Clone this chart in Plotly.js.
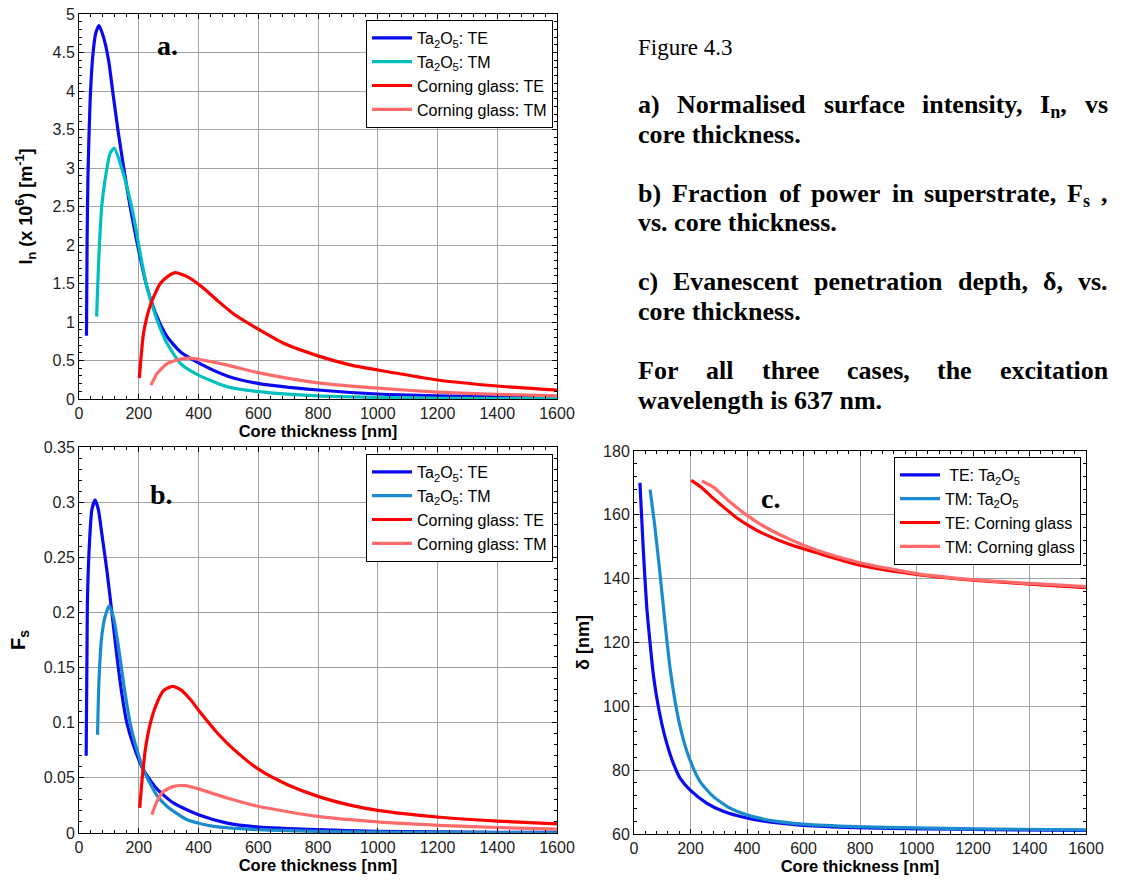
<!DOCTYPE html>
<html>
<head>
<meta charset="utf-8">
<script src="https://cdn.plot.ly/plotly-3.0.1.min.js"></script>
<style>html,body{margin:0;padding:0;background:#fff;}#chart{width:1141px;height:881px;}</style>
</head>
<body>
<div id="chart"></div>
<script>
// ---------- data ----------
// Panel a: normalised surface intensity In (x 10^6 m^-1)
const aTaTeX = [25, 27, 30, 37, 46, 56, 67, 82, 99, 115, 132, 149, 171, 196, 227, 261, 295, 340, 400, 496, 603, 800, 1000, 1200, 1400, 1600];
const aTaTeY = [0.82, 2.0, 2.9, 3.85, 4.45, 4.75, 4.85, 4.7, 4.4, 3.93, 3.45, 3.02, 2.5, 2.0, 1.46, 1.07, 0.81, 0.61, 0.47, 0.3, 0.2, 0.117, 0.065, 0.042, 0.03, 0.025];
const aTaTmX = [59, 63, 67, 76, 87, 104, 118, 138, 160, 183, 205, 227, 261, 295, 340, 400, 496, 603, 800, 1000, 1200, 1400, 1600];
const aTaTmY = [1.07, 1.5, 1.89, 2.5, 2.84, 3.19, 3.26, 3.06, 2.76, 2.37, 1.89, 1.46, 1.03, 0.72, 0.46, 0.31, 0.16, 0.095, 0.04, 0.02, 0.01, 0.006, 0.004];
const aCgTeX = [202, 216, 239, 272, 300, 323, 362, 407, 463, 519, 603, 687, 800, 911, 1000, 1200, 1400, 1600];
const aCgTeY = [0.27, 0.85, 1.22, 1.5, 1.6, 1.64, 1.59, 1.47, 1.28, 1.1, 0.9, 0.72, 0.56, 0.44, 0.377, 0.247, 0.169, 0.117];
const aCgTmX = [241, 261, 295, 340, 373, 407, 496, 603, 800, 1000, 1200, 1400, 1600];
const aCgTmY = [0.18, 0.33, 0.46, 0.52, 0.53, 0.51, 0.44, 0.34, 0.21, 0.14, 0.09, 0.06, 0.04];

// Panel b: fraction of power in superstrate Fs
const bTaTeX = [24, 28, 35, 43, 54, 65, 76, 93, 110, 127, 143, 160, 183, 216, 261, 317, 400, 496, 603, 800, 1000, 1200, 1400, 1600];
const bTaTeY = [0.07, 0.2085, 0.263, 0.293, 0.302, 0.293, 0.272, 0.239, 0.2, 0.16, 0.127, 0.1, 0.079, 0.057, 0.04, 0.027, 0.0166, 0.009, 0.0054, 0.003, 0.0015, 0.001, 0.0007, 0.0005];
const bTaTmX = [62, 67, 76, 87, 101, 115, 132, 149, 171, 194, 216, 261, 295, 362, 451, 603, 800, 1000, 1200, 1400, 1600];
const bTaTmY = [0.089, 0.139, 0.178, 0.196, 0.206, 0.196, 0.169, 0.136, 0.1, 0.0755, 0.057, 0.034, 0.024, 0.012, 0.006, 0.003, 0.0015, 0.0008, 0.0005, 0.0003, 0.0002];
const bCgTeX = [203, 211, 222, 239, 261, 283, 312, 340, 373, 407, 463, 519, 603, 698, 800, 911, 1000, 1200, 1400, 1600];
const bCgTeY = [0.0227, 0.048, 0.0756, 0.0997, 0.118, 0.129, 0.133, 0.13, 0.121, 0.109, 0.0907, 0.0756, 0.0574, 0.0438, 0.0332, 0.025, 0.0205, 0.0145, 0.0108, 0.0083];
const bCgTmX = [244, 261, 283, 317, 356, 400, 496, 603, 800, 1000, 1200, 1400, 1600];
const bCgTmY = [0.0166, 0.0287, 0.0378, 0.0423, 0.0429, 0.04, 0.0317, 0.024, 0.015, 0.01, 0.007, 0.005, 0.0035];

// Panel c: evanescent penetration depth (nm)
const cTaTeX = [21, 33, 45, 57, 68, 80, 98, 116, 139, 163, 198, 257, 316, 399, 493, 599, 788, 1024, 1260, 1600];
const cTaTeY = [170, 148.9, 131.2, 119.7, 110.3, 103, 94.7, 88.4, 82.2, 77.5, 73.8, 69.7, 67.1, 65, 63.6, 62.7, 62, 61.6, 61.4, 61.1];
const cTaTmX = [57, 74, 92, 110, 127, 151, 175, 198, 234, 281, 340, 399, 493, 599, 788, 1000, 1200, 1600];
const cTaTmY = [167.9, 156.2, 141.6, 126, 112.4, 98.8, 89.5, 83.2, 76.4, 71.7, 68.1, 66, 64.1, 63.1, 62.3, 61.9, 61.6, 61.3];
const cCgTeX = [203, 240, 269, 316, 363, 410, 458, 552, 647, 800, 1000, 1200, 1400, 1600];
const cCgTeY = [170.8, 168.5, 166.1, 162.5, 159.1, 156.4, 154.1, 150.7, 148.1, 144.2, 141.3, 139.5, 138.3, 137.2];
const cCgTmX = [240, 281, 340, 399, 458, 552, 647, 800, 1000, 1200, 1400, 1600];
const cCgTmY = [170.6, 168.7, 164, 159.9, 156.5, 152.3, 148.9, 145, 141.6, 139.7, 138.5, 137.5];

// labels
const namesAB = ['Ta<sub>2</sub>O<sub>5</sub>: TE', 'Ta<sub>2</sub>O<sub>5</sub>: TM', 'Corning glass: TE', 'Corning glass: TM'];
const namesC = [' TE: Ta<sub>2</sub>O<sub>5</sub>', 'TM: Ta<sub>2</sub>O<sub>5</sub>', 'TE: Corning glass', 'TM: Corning glass'];
const xTitle = 'Core thickness [nm]';
const yTitleA = 'I<sub>n</sub> (x 10<sup>6</sup>) [m<sup>-1</sup>]';
const yTitleB = 'F<sub>s</sub>';
const yTitleC = 'δ [nm]';
const panelTags = ['a.', 'b.', 'c.'];
const figHeading = 'Figure 4.3';
const captionLines = [
  {t: 'a) Normalised surface intensity, I<sub>n</sub>, vs', j: true},
  {t: 'core thickness.', j: false},
  {t: 'b) Fraction of power in superstrate, F<sub>s</sub> ,', j: true},
  {t: 'vs. core thickness.', j: false},
  {t: 'c) Evanescent penetration depth, δ, vs.', j: true},
  {t: 'core thickness.', j: false},
  {t: 'For all three cases, the excitation', j: true},
  {t: 'wavelength is 637 nm.', j: false}
];

// ---------- layout helpers ----------
const W = 1141, H = 881;
const px = v => v / W;
const py = v => 1 - v / H;

const cBlue = '#0a0af0', cCyan = '#00bfbf', cSky = '#1a8bcf', cRed = '#ff0000', cPink = '#ff6a6a';
const lw = 3.2;

function tr(x, y, name, color, xa, ya, leg) {
  return {x: x, y: y, name: name, type: 'scatter', mode: 'lines',
    line: {color: color, width: lw, shape: 'spline', smoothing: 0.6},
    xaxis: xa, yaxis: ya, legend: leg, hoverinfo: 'skip'};
}

const traces = [
  tr(aTaTeX, aTaTeY, namesAB[0], cBlue, 'x', 'y', 'legend'),
  tr(aTaTmX, aTaTmY, namesAB[1], cCyan, 'x', 'y', 'legend'),
  tr(aCgTeX, aCgTeY, namesAB[2], cRed, 'x', 'y', 'legend'),
  tr(aCgTmX, aCgTmY, namesAB[3], cPink, 'x', 'y', 'legend'),
  tr(bTaTeX, bTaTeY, namesAB[0], cBlue, 'x2', 'y2', 'legend2'),
  tr(bTaTmX, bTaTmY, namesAB[1], cSky, 'x2', 'y2', 'legend2'),
  tr(bCgTeX, bCgTeY, namesAB[2], cRed, 'x2', 'y2', 'legend2'),
  tr(bCgTmX, bCgTmY, namesAB[3], cPink, 'x2', 'y2', 'legend2'),
  tr(cTaTeX, cTaTeY, namesC[0], cBlue, 'x3', 'y3', 'legend3'),
  tr(cTaTmX, cTaTmY, namesC[1], cSky, 'x3', 'y3', 'legend3'),
  tr(cCgTeX, cCgTeY, namesC[2], cRed, 'x3', 'y3', 'legend3'),
  tr(cCgTmX, cCgTmY, namesC[3], cPink, 'x3', 'y3', 'legend3')
];

const sans = 'Liberation Sans, Arial, sans-serif';
const serif = 'Liberation Serif, Times New Roman, serif';

function axis(extra) {
  return Object.assign({
    showline: true, linecolor: '#000', linewidth: 1, mirror: 'allticks',
    ticks: 'inside', ticklen: 5, tickcolor: '#000', tickwidth: 1,
    showgrid: true, gridcolor: '#a3a3a3', gridwidth: 1, zeroline: false,
    tickfont: {family: sans, size: 16, color: '#1e1e1e'},
    fixedrange: true, automargin: false
  }, extra);
}
function xAx(dom, anchor) {
  return axis({domain: dom, anchor: anchor, range: [0, 1600], tick0: 0, dtick: 200,
    minor: {ticks: 'inside', ticklen: 3, tickcolor: '#000', dtick: 40, showgrid: false},
    title: {text: xTitle, font: {family: sans, size: 16.5, color: '#000', weight: 'bold'}, standoff: 4}});
}
function yAx(dom, anchor, range, dt, mdt, title, fs, so) {
  return axis({domain: dom, anchor: anchor, range: range, tick0: range[0], dtick: dt,
    minor: {ticks: 'inside', ticklen: 3, tickcolor: '#000', dtick: mdt, showgrid: false},
    title: {text: title, font: {family: sans, size: fs, color: '#000', weight: 'bold'}, standoff: so}});
}
function leg(xr, yt) {
  return {x: px(xr), y: py(yt), xanchor: 'right', yanchor: 'top', xref: 'paper', yref: 'paper',
    bgcolor: '#fff', bordercolor: '#000', borderwidth: 1,
    font: {family: sans, size: 16, color: '#000'}, itemwidth: 40, tracegroupgap: 0};
}

// ---------- text annotations ----------
const annotations = [];
const tagFont = {family: serif, size: 28, color: '#000', weight: 'bold'};
function tag(t, x, y) {
  annotations.push({text: t, x: px(x), y: py(y), xref: 'paper', yref: 'paper', xanchor: 'center', yanchor: 'middle',
    showarrow: false, borderpad: 0, font: tagFont});
}
tag(panelTags[0], 167, 45);
tag(panelTags[1], 161, 494);
tag(panelTags[2], 770, 499);

annotations.push({text: figHeading, x: px(637), y: py(55 - 21), xref: 'paper', yref: 'paper', xanchor: 'left', yanchor: 'top',
  showarrow: false, borderpad: 0, font: {family: serif, size: 23, color: '#000'}});

const capSize = 26, capLeft = 637, capRight = 1107;
const baselines = [112, 142, 200.5, 230.5, 289, 319, 378, 408];
const cv = document.createElement('canvas').getContext('2d');
function measure(html) {
  let w = 0;
  html.split(/(<sub>.*?<\/sub>)/).forEach(p => {
    if (!p) return;
    const m = p.match(/^<sub>(.*)<\/sub>$/);
    if (m) { cv.font = 'bold ' + (capSize * 0.7) + 'px "Liberation Serif"'; w += cv.measureText(m[1]).width; }
    else { cv.font = 'bold ' + capSize + 'px "Liberation Serif"'; w += cv.measureText(p).width; }
  });
  return w;
}
const capFont = {family: serif, size: capSize, color: '#000', weight: 'bold'};
captionLines.forEach((ln, i) => {
  const top = baselines[i] - 23;
  if (!ln.j) {
    annotations.push({text: ln.t, x: px(capLeft), y: py(top), xref: 'paper', yref: 'paper', xanchor: 'left', yanchor: 'top',
      showarrow: false, borderpad: 0, font: capFont});
    return;
  }
  const words = ln.t.split(' ').filter(s => s.length);
  const widths = words.map(measure);
  const total = widths.reduce((a, b) => a + b, 0);
  const gap = (capRight - capLeft - total) / (words.length - 1);
  let xpos = capLeft;
  words.forEach((w, k) => {
    annotations.push({text: w, x: px(xpos), y: py(top), xref: 'paper', yref: 'paper', xanchor: 'left', yanchor: 'top',
      showarrow: false, borderpad: 0, font: capFont});
    xpos += widths[k] + gap;
  });
});

const layout = {
  width: W, height: H, margin: {l: 0, r: 0, t: 0, b: 0},
  paper_bgcolor: '#fff', plot_bgcolor: '#fff',
  font: {family: sans, size: 16, color: '#000'},
  xaxis: xAx([px(79), px(557)], 'y'),
  yaxis: yAx([py(399), py(14)], 'x', [0, 5], 0.5, 0.1, yTitleA, 18, 15),
  xaxis2: xAx([px(79), px(557)], 'y2'),
  yaxis2: yAx([py(833), py(447)], 'x2', [0, 0.35], 0.05, 0.01, yTitleB, 20, 12),
  xaxis3: xAx([px(634), px(1086)], 'y3'),
  yaxis3: yAx([py(834), py(451)], 'x3', [60, 180], 20, 4, yTitleC, 18, 8),
  legend: leg(553, 20),
  legend2: leg(553, 454),
  legend3: leg(1081, 457),
  annotations: annotations,
  showlegend: true
};

Plotly.newPlot('chart', traces, layout, {displayModeBar: false, staticPlot: true});
</script>
</body>
</html>
